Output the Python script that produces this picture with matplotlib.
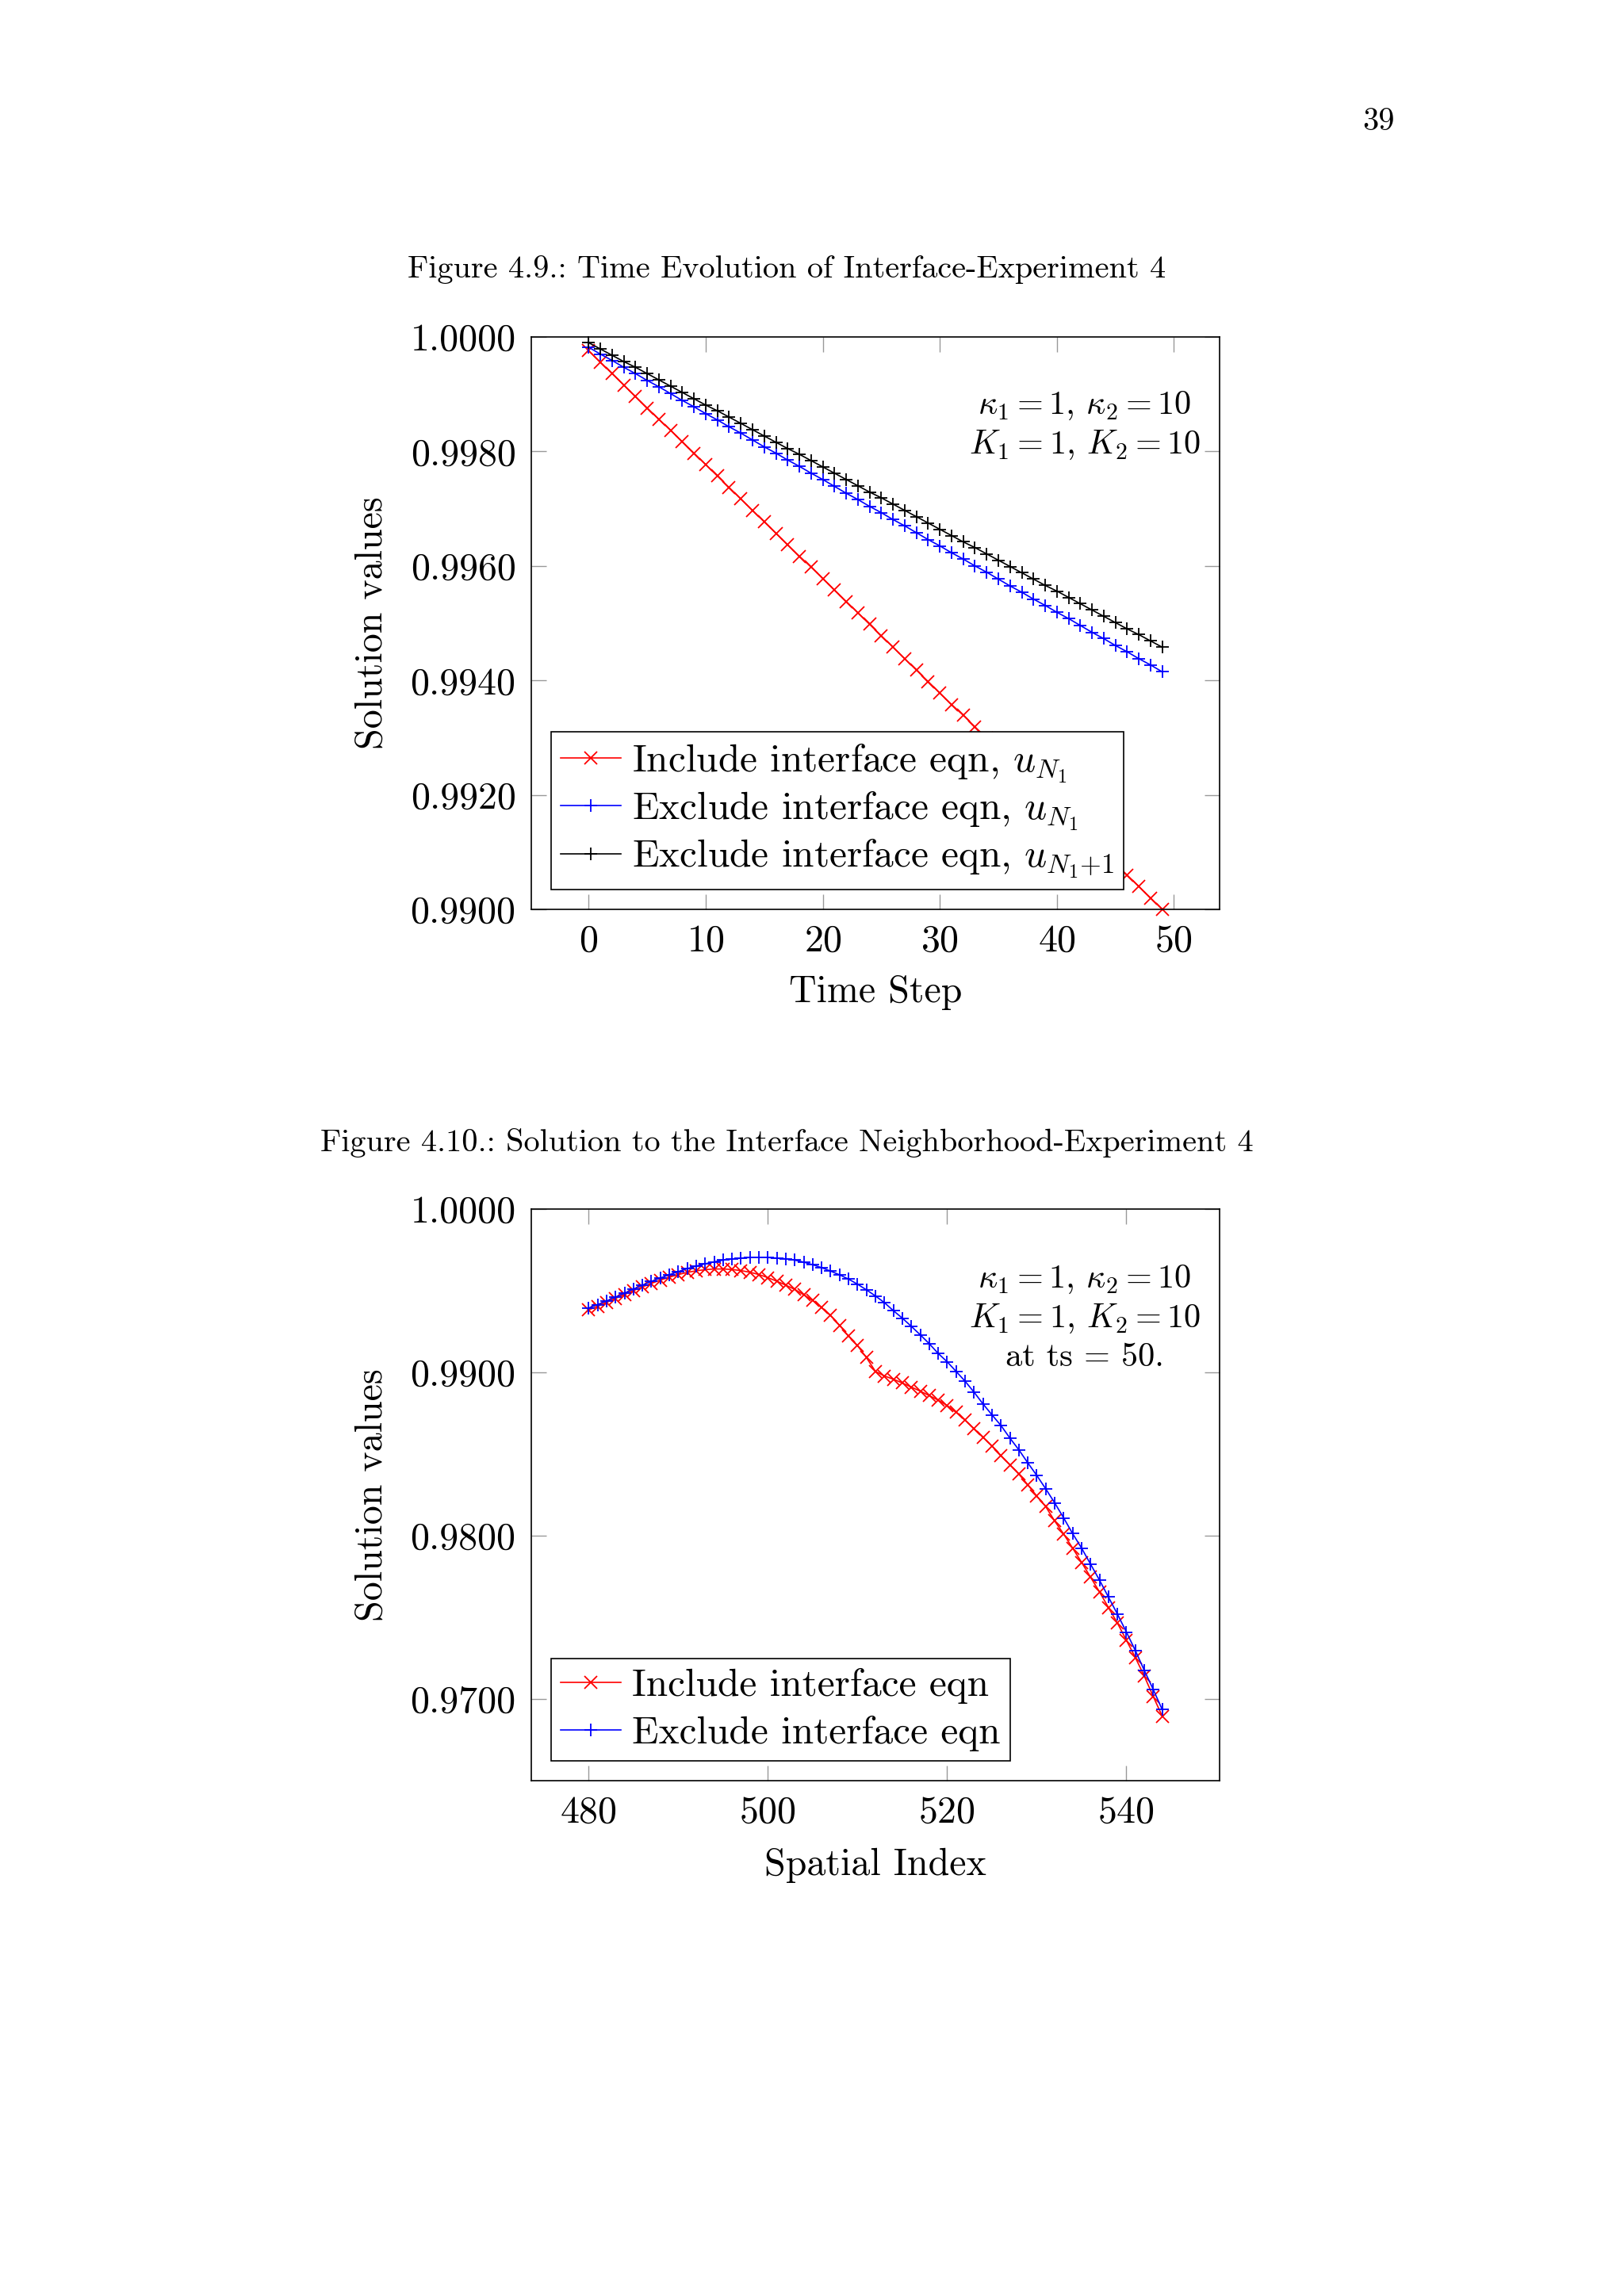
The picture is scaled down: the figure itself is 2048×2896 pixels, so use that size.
import matplotlib
matplotlib.use('Agg')
import matplotlib.pyplot as plt

plt.rcParams['font.family'] = ['cmr10', 'DejaVu Serif']
plt.rcParams['mathtext.fontset'] = 'cm'
plt.rcParams['axes.formatter.use_mathtext'] = True

# Figure 4.9 data: time evolution
time_steps = list(range(50))
include_uN1 = [0.99976, 0.99956, 0.99936, 0.99916, 0.99896, 0.99876, 0.99856, 0.99837, 0.99817, 0.99797,
               0.99777, 0.99757, 0.99737, 0.99717, 0.99697, 0.99677, 0.99657, 0.99637, 0.99617, 0.99598,
               0.99578, 0.99558, 0.99538, 0.99518, 0.99498, 0.99478, 0.99458, 0.99438, 0.99418, 0.99398,
               0.99378, 0.99358, 0.99339, 0.99319, 0.99299, 0.99279, 0.99259, 0.99239, 0.99219, 0.99199,
               0.99179, 0.99159, 0.99139, 0.99119, 0.99100, 0.99080, 0.99060, 0.99040, 0.99020, 0.99000]
exclude_uN1 = [0.99982, 0.99970, 0.99959, 0.99947, 0.99936, 0.99924, 0.99913, 0.99901, 0.99889, 0.99878,
               0.99866, 0.99855, 0.99843, 0.99832, 0.99820, 0.99808, 0.99797, 0.99785, 0.99774, 0.99762,
               0.99751, 0.99739, 0.99727, 0.99716, 0.99704, 0.99693, 0.99681, 0.99670, 0.99658, 0.99646,
               0.99635, 0.99623, 0.99612, 0.99600, 0.99589, 0.99577, 0.99565, 0.99554, 0.99542, 0.99531,
               0.99519, 0.99508, 0.99496, 0.99484, 0.99473, 0.99461, 0.99450, 0.99438, 0.99427, 0.99415]
exclude_uN1p1 = [0.99990, 0.99979, 0.99968, 0.99957, 0.99947, 0.99936, 0.99925, 0.99914, 0.99903, 0.99892,
                 0.99881, 0.99871, 0.99860, 0.99849, 0.99838, 0.99827, 0.99816, 0.99805, 0.99795, 0.99784,
                 0.99773, 0.99762, 0.99751, 0.99740, 0.99729, 0.99719, 0.99708, 0.99697, 0.99686, 0.99675,
                 0.99664, 0.99653, 0.99642, 0.99632, 0.99621, 0.99610, 0.99599, 0.99588, 0.99577, 0.99566,
                 0.99556, 0.99545, 0.99534, 0.99523, 0.99512, 0.99501, 0.99490, 0.99480, 0.99469, 0.99458]

# Figure 4.10 data: solution near the interface at ts = 50
spatial_index = list(range(480, 545))
include_sol = [0.99382, 0.99405, 0.99429, 0.99453, 0.99477, 0.99501, 0.99523, 0.99545, 0.99565, 0.99583,
               0.99599, 0.99612, 0.99622, 0.99629, 0.99633, 0.99633, 0.99630, 0.99623, 0.99613, 0.99599,
               0.99580, 0.99558, 0.99534, 0.99508, 0.99475, 0.99440, 0.99396, 0.99348, 0.99288, 0.99222,
               0.99164, 0.99090, 0.99006, 0.98978, 0.98958, 0.98935, 0.98910, 0.98885, 0.98858, 0.98830,
               0.98797, 0.98755, 0.98707, 0.98656, 0.98602, 0.98549, 0.98491, 0.98434, 0.98377, 0.98312,
               0.98243, 0.98178, 0.98090, 0.98010, 0.97924, 0.97837, 0.97746, 0.97656, 0.97560, 0.97465,
               0.97360, 0.97254, 0.97140, 0.97015, 0.96895]
exclude_sol = [0.99394, 0.99415, 0.99437, 0.99461, 0.99485, 0.99510, 0.99534, 0.99557, 0.99578, 0.99598,
               0.99617, 0.99635, 0.99651, 0.99665, 0.99677, 0.99687, 0.99694, 0.99700, 0.99703, 0.99704,
               0.99703, 0.99700, 0.99695, 0.99687, 0.99675, 0.99659, 0.99641, 0.99620, 0.99597, 0.99571,
               0.99540, 0.99505, 0.99468, 0.99427, 0.99378, 0.99332, 0.99282, 0.99230, 0.99176, 0.99116,
               0.99065, 0.99006, 0.98946, 0.98879, 0.98807, 0.98740, 0.98675, 0.98598, 0.98526, 0.98446,
               0.98369, 0.98287, 0.98201, 0.98109, 0.98013, 0.97924, 0.97826, 0.97728, 0.97624, 0.97520,
               0.97410, 0.97297, 0.97175, 0.97058, 0.96935]

top_yticks = [0.990, 0.992, 0.994, 0.996, 0.998, 1.000]
top_xticks = [0, 10, 20, 30, 40, 50]
bot_yticks = [0.970, 0.980, 0.990, 1.000]
bot_xticks = [480, 500, 520, 540]

W, H = 2048, 2896
fig = plt.figure(figsize=(W / 100, H / 100), dpi=100)
fig.patch.set_facecolor('white')

FS = 34.5
LEG = 35.5
ANN = 30.5
CAP = 29


def px_axes(left, top, right, bottom):
    return [left / W, 1 - bottom / H, (right - left) / W, (bottom - top) / H]


def style_axes(ax):
    for sp in ax.spines.values():
        sp.set_linewidth(1.2)
        sp.set_color('black')
    ax.tick_params(direction='in', length=14, width=1.0, color='#999999',
                   top=True, right=True, labelsize=FS, pad=13)
    ax.tick_params(axis='y', pad=14)


def legend(ax, spacing):
    leg = ax.legend(loc='lower left', fontsize=LEG, fancybox=False, framealpha=1,
                    edgecolor='black', handlelength=1.55, handletextpad=0.27,
                    borderpad=0.25, labelspacing=spacing, borderaxespad=0.5, numpoints=1)
    leg.get_frame().set_linewidth(1.2)
    return leg


mk = dict(markersize=12, markeredgewidth=1.3, linewidth=1.2)

# page number and captions
fig.text(1738 / W, 1 - 154 / H, '39', fontsize=CAP, ha='center', va='center')
fig.text(992 / W, 1 - 340 / H, 'Figure 4.9.: Time Evolution of Interface-Experiment 4',
         fontsize=CAP, ha='center', va='center')
fig.text(992 / W, 1 - 1441 / H, 'Figure 4.10.: Solution to the Interface Neighborhood-Experiment 4',
         fontsize=CAP, ha='center', va='center')

# ---- top chart ----
ax1 = fig.add_axes(px_axes(670, 425, 1538, 1147))
ax1.plot(time_steps, include_uN1, color='red', marker='x', clip_on=False,
         label=r'Include interface eqn, $u_{N_1}$', **mk)
ax1.plot(time_steps, exclude_uN1, color='blue', marker='+', clip_on=False,
         label=r'Exclude interface eqn, $u_{N_1}$', **mk)
ax1.plot(time_steps, exclude_uN1p1, color='black', marker='+', clip_on=False,
         label=r'Exclude interface eqn, $u_{N_1{+}1}$', **mk)
ax1.set_xlim(-4.9, 53.9)
ax1.set_ylim(0.99, 1.0)
ax1.set_xticks(top_xticks)
ax1.set_yticks(top_yticks)
ax1.set_yticklabels(['%.4f' % v for v in top_yticks])
style_axes(ax1)
ax1.set_xlabel('Time Step', fontsize=FS)
ax1.set_ylabel('Solution values', fontsize=FS)
ax1.xaxis.set_label_coords(0.5, -0.115)
ax1.yaxis.set_label_coords(-0.205, 0.5)
ax1.text(0.804, 0.845, r'$\kappa_1 = 1$, $\kappa_2 = 10$' + '\n' + r'$K_1 = 1$, $K_2 = 10$',
         transform=ax1.transAxes, fontsize=ANN, ha='center', va='center',
         multialignment='center', linespacing=1.3)
legend(ax1, 0.12)

# ---- bottom chart ----
ax2 = fig.add_axes(px_axes(670, 1525, 1538, 2246))
ax2.plot(spatial_index, include_sol, color='red', marker='x',
         label='Include interface eqn', **mk)
ax2.plot(spatial_index, exclude_sol, color='blue', marker='+',
         label='Exclude interface eqn', **mk)
ax2.set_xlim(473.6, 550.4)
ax2.set_ylim(0.965, 1.0)
ax2.set_xticks(bot_xticks)
ax2.set_yticks(bot_yticks)
ax2.set_yticklabels(['%.4f' % v for v in bot_yticks])
style_axes(ax2)
ax2.set_xlabel('Spatial Index', fontsize=FS)
ax2.set_ylabel('Solution values', fontsize=FS)
ax2.xaxis.set_label_coords(0.5, -0.118)
ax2.yaxis.set_label_coords(-0.205, 0.5)
ax2.text(0.804, 0.81, r'$\kappa_1 = 1$, $\kappa_2 = 10$' + '\n' + r'$K_1 = 1$, $K_2 = 10$' + '\n' + 'at ts = 50.',
         transform=ax2.transAxes, fontsize=ANN, ha='center', va='center',
         multialignment='center', linespacing=1.3)
legend(ax2, 0.3)

fig.savefig('out.png', dpi=100, facecolor='white')
